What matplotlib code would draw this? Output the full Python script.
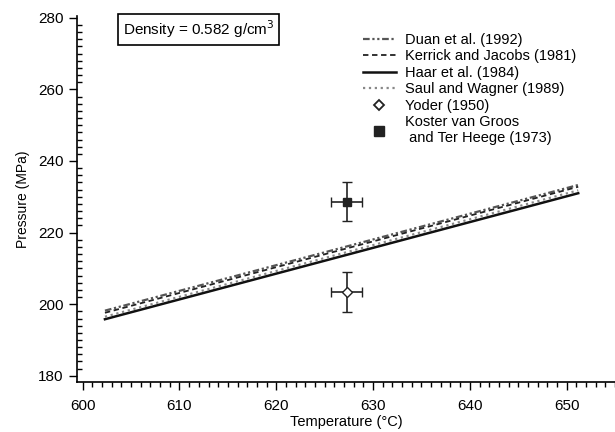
import matplotlib
matplotlib.use('Agg')
import matplotlib.pyplot as plt
from matplotlib.lines import Line2D
from matplotlib.ticker import MultipleLocator

plt.rcParams['font.family'] = ['Liberation Sans', 'DejaVu Sans']

# isochore end points (T in °C, P in MPa)
temp_line = [602.3, 651.2]
duan = [198.2, 233.3]
kerrick = [197.6, 232.8]
haar = [195.8, 231.0]
saul = [196.5, 231.8]

# experimental points
yoder_t, yoder_p = [627.3], [203.4]
koster_t, koster_p = [627.3], [228.6]
t_err = 1.6
p_err = 5.5

fig = plt.figure(figsize=(6.15, 4.32), dpi=100)
ax = fig.add_axes([0.125, 0.116, 0.875, 0.847])

l1, = ax.plot(temp_line, duan, color='#555555', lw=1.6, ls=(0, (3, 1.2, 1, 1.2, 1, 1.2)), label='Duan et al. (1992)')
l2, = ax.plot(temp_line, kerrick, color='#222222', lw=1.3, ls=(0, (3, 2)), label='Kerrick and Jacobs (1981)')
l3, = ax.plot(temp_line, haar, color='#111111', lw=1.8, ls='-', label='Haar et al. (1984)')
l4, = ax.plot(temp_line, saul, color='#888888', lw=1.6, ls=':', label='Saul and Wagner (1989)')

ax.errorbar(yoder_t, yoder_p, xerr=t_err, yerr=p_err, fmt='D', ms=5, mfc='white', mec='#222222',
            ecolor='#222222', elinewidth=1.2, capsize=3.5)
ax.errorbar(koster_t, koster_p, xerr=t_err, yerr=p_err, fmt='s', ms=6, mfc='#222222', mec='#222222',
            ecolor='#222222', elinewidth=1.2, capsize=3.5)

h_yoder = Line2D([], [], ls='none', marker='D', ms=5, mfc='white', mec='#222222', mew=1.3)
h_koster = Line2D([], [], ls='none', marker='s', ms=7, mfc='#222222', mec='#222222')

ax.set_xlim(599.4, 655)
ax.set_ylim(178.3, 280.5)
ax.xaxis.set_major_locator(MultipleLocator(10))
ax.xaxis.set_minor_locator(MultipleLocator(1))
ax.yaxis.set_major_locator(MultipleLocator(20))
ax.yaxis.set_minor_locator(MultipleLocator(2))
ax.tick_params(axis='both', which='major', labelsize=11, length=6, width=1)
ax.tick_params(axis='x', which='minor', direction='out', length=3.5, width=1)
ax.tick_params(axis='y', which='minor', direction='in', length=3.5, width=1)
ax.tick_params(axis='x', which='major', pad=6)
for s in ['top', 'right']:
    ax.spines[s].set_visible(False)
ax.spines['left'].set_linewidth(1.2)
ax.spines['bottom'].set_linewidth(1.2)

ax.set_xlabel('Temperature (°C)', fontsize=10.5, labelpad=2)
ax.set_ylabel('Pressure (MPa)', fontsize=10, labelpad=6)

ax.text(0.085, 0.993, 'Density = 0.582 g/cm$^3$', transform=ax.transAxes, fontsize=11,
        va='top', ha='left', bbox=dict(boxstyle='square,pad=0.3', fc='white', ec='black', lw=1.2))

ax.legend([l1, l2, l3, l4, h_yoder, h_koster],
          ['Duan et al. (1992)', 'Kerrick and Jacobs (1981)', 'Haar et al. (1984)',
           'Saul and Wagner (1989)', 'Yoder (1950)', 'Koster van Groos\n and Ter Heege (1973)'],
          loc='upper left', bbox_to_anchor=(0.52, 0.97), frameon=False, fontsize=10.5,
          handlelength=2.3, handletextpad=0.6, labelspacing=0.17, borderaxespad=0)

fig.savefig('out.png', dpi=100)
